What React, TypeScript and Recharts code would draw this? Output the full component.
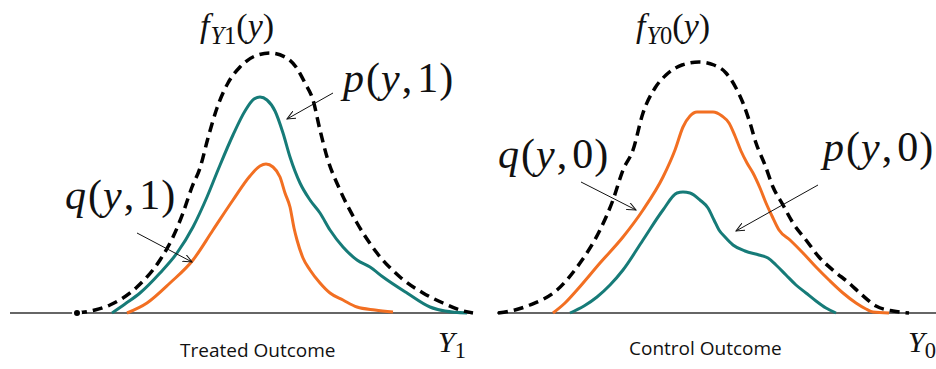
import React from 'react';
import { LineChart, Line, XAxis, YAxis, ReferenceLine } from 'recharts';

// outcome positions and density heights
const treatedX = [7.7, 9.5, 11.0, 13.7, 16.0, 17.3, 18.3, 19.2, 20.0, 20.8, 21.7, 22.8, 24.0, 25.5, 27.0, 28.5, 29.6, 30.5, 31.3, 32.0, 32.7, 34.0, 35.7, 37.7, 40.0, 42.3, 44.3, 46.0, 47.3];
const treatedF = [0, 0.03, 0.08, 0.26, 0.53, 0.76, 1.0, 1.26, 1.45, 1.75, 2.05, 2.3, 2.46, 2.57, 2.6, 2.56, 2.46, 2.3, 2.13, 1.83, 1.56, 1.23, 0.9, 0.6, 0.36, 0.2, 0.1, 0.03, 0];

const treatedPX = [11.2, 12.5, 14.0, 16.0, 17.7, 19.3, 20.7, 21.8, 23.3, 24.5, 25.4, 26.0, 26.7, 27.5, 28.3, 29.0, 30.0, 31.0, 32.0, 33.0, 34.3, 35.7, 37.0, 38.3, 40.7, 43.0, 44.5, 46.7];
const treatedP = [0, 0.09, 0.2, 0.4, 0.6, 0.86, 1.16, 1.43, 1.78, 2.02, 2.14, 2.16, 2.13, 2.02, 1.8, 1.56, 1.3, 1.13, 1.0, 0.83, 0.66, 0.53, 0.46, 0.36, 0.2, 0.06, 0.02, 0];

const treatedQX = [12.7, 14.7, 17.0, 19.3, 21.3, 23.3, 25.0, 26.0, 26.6, 27.3, 28.0, 28.5, 29.0, 29.4, 29.7, 30.3, 31.0, 32.0, 33.0, 34.3, 35.7, 37.5, 39.3];
const treatedQ = [0, 0.1, 0.3, 0.53, 0.83, 1.13, 1.37, 1.47, 1.49, 1.46, 1.36, 1.2, 1.06, 0.85, 0.73, 0.55, 0.43, 0.3, 0.2, 0.13, 0.06, 0.03, 0.01];

const controlX = [49.8, 51.5, 53.0, 55.7, 58.0, 60.0, 61.3, 62.3, 63.3, 64.3, 65.5, 66.6, 68.2, 69.9, 71.4, 72.6, 73.6, 74.3, 75.0, 75.6, 76.5, 77.3, 78.3, 79.3, 80.6, 81.9, 83.4, 84.9, 86.2, 87.6, 89.3, 90.9];
const controlF = [0, 0.03, 0.08, 0.23, 0.5, 0.83, 1.13, 1.43, 1.63, 2.0, 2.25, 2.38, 2.48, 2.51, 2.48, 2.4, 2.25, 2.1, 1.9, 1.7, 1.48, 1.26, 1.08, 0.9, 0.73, 0.56, 0.42, 0.3, 0.18, 0.07, 0.02, 0];

const controlQX = [55.3, 56.5, 57.7, 60.0, 62.3, 64.3, 66.3, 67.5, 68.3, 69.0, 69.7, 71.3, 72.2, 72.9, 73.5, 74.1, 74.7, 75.3, 76.0, 76.6, 77.2, 77.9, 79.0, 80.3, 81.6, 82.9, 84.3, 85.6, 86.6, 87.3, 88.9];
const controlQ = [0, 0.1, 0.23, 0.5, 0.76, 1.03, 1.36, 1.63, 1.86, 1.97, 2.01, 2.01, 1.97, 1.9, 1.77, 1.62, 1.5, 1.4, 1.25, 1.1, 0.97, 0.83, 0.73, 0.6, 0.46, 0.33, 0.2, 0.1, 0.04, 0.01, 0];

const controlPX = [57.0, 58.4, 59.7, 61.0, 62.3, 64.3, 66.3, 67.7, 68.3, 69.0, 70.0, 70.8, 71.4, 71.9, 72.5, 73.3, 74.5, 75.9, 76.8, 77.6, 78.6, 79.6, 80.6, 81.6, 82.6, 83.6];
const controlP = [0, 0.07, 0.16, 0.28, 0.43, 0.73, 1.03, 1.2, 1.21, 1.2, 1.13, 1.05, 0.93, 0.83, 0.76, 0.68, 0.62, 0.58, 0.55, 0.48, 0.38, 0.28, 0.2, 0.12, 0.05, 0];

const baselines = [[1.0, 47.3], [49.7, 93.6]];
const arrows = [
  [33.3, 2.2, 28.7, 1.94],
  [13.7, 0.8, 19.2, 0.51],
  [58.1, 1.31, 63.6, 1.03],
  [81.8, 1.28, 73.6, 0.82],
];

const zip = (xs: number[], ys: number[]) => xs.map((x, i) => ({ x, y: ys[i] }));

const TEAL = '#167b78';
const ORANGE = '#f26f22';

const serif = '"Liberation Serif", "Times New Roman", "DejaVu Serif", serif';

const Lbl = ({ left, top, size, children }: any) => (
  <div style={{ position: 'absolute', left, top, fontFamily: serif, fontSize: size, lineHeight: 1, whiteSpace: 'nowrap', color: '#111' }}>
    {children}
  </div>
);

const Fn = ({ name, a }: { name: string; a: string }) => (
  <>
    <i style={{ marginRight: 2 }}>{name}</i>(<i style={{ marginLeft: 1, marginRight: 2 }}>y</i>,<span style={{ marginLeft: 5, marginRight: 1 }}>{a}</span>)
  </>
);

const Dens = ({ k }: { k: string }) => (
  <>
    <i style={{ marginRight: 1 }}>f</i>
    <span style={{ fontSize: '0.72em', position: 'relative', top: '0.3em' }}>
      <i>Y</i>
      <span>{k}</span>
    </span>
    (<i>y</i>)
  </>
);

const Axis = ({ k }: { k: string }) => (
  <>
    <i>Y</i>
    <span style={{ fontSize: '0.75em', position: 'relative', top: '0.25em' }}>{k}</span>
  </>
);

const sans = { position: 'absolute' as const, fontFamily: '"Open Sans", sans-serif', fontSize: 19, lineHeight: 1, color: '#111', whiteSpace: 'nowrap' as const };

export default function App() {
  return (
    <div style={{ position: 'absolute', left: 0, top: 0, width: 936, height: 369, background: '#fff' }}>
      <LineChart width={936} height={369} margin={{ top: 0, right: 0, bottom: 0, left: 0 }}>
        <defs>
          <marker id="arr" markerWidth="10" markerHeight="8" refX="9" refY="4" orient="auto" markerUnits="userSpaceOnUse">
            <path d="M0,0 L9,4 L0,8" fill="none" stroke="#111" strokeWidth={1} />
          </marker>
        </defs>
        <XAxis type="number" dataKey="x" domain={[0, 93.6]} hide allowDataOverflow />
        <YAxis type="number" domain={[-0.56, 3.13]} hide allowDataOverflow />
        {baselines.map(([a, b], i) => (
          <ReferenceLine key={'b' + i} segment={[{ x: a, y: 0 }, { x: b, y: 0 }]} stroke="#666" strokeWidth={2} />
        ))}
        <Line data={zip(treatedPX, treatedP)} dataKey="y" type="monotone" stroke={TEAL} strokeWidth={3} dot={false} isAnimationActive={false} />
        <Line data={zip(treatedQX, treatedQ)} dataKey="y" type="monotone" stroke={ORANGE} strokeWidth={3} dot={false} isAnimationActive={false} />
        <Line data={zip(treatedX, treatedF)} dataKey="y" type="monotone" stroke="#000" strokeWidth={3.5} strokeDasharray="10 6" dot={false} isAnimationActive={false} />
        <Line data={zip(controlPX, controlP)} dataKey="y" type="monotone" stroke={TEAL} strokeWidth={3} dot={false} isAnimationActive={false} />
        <Line data={zip(controlQX, controlQ)} dataKey="y" type="monotone" stroke={ORANGE} strokeWidth={3} dot={false} isAnimationActive={false} />
        <Line data={zip(controlX, controlF)} dataKey="y" type="monotone" stroke="#000" strokeWidth={3.5} strokeDasharray="10 6" dot={false} isAnimationActive={false} />
        {arrows.map(([x1, y1, x2, y2], i) => (
          <ReferenceLine key={'a' + i} segment={[{ x: x1, y: y1 }, { x: x2, y: y2 }]} stroke="#111" strokeWidth={1} markerEnd="url(#arr)" />
        ))}
      </LineChart>
      <Lbl left={200} top={9} size={34}><Dens k="1" /></Lbl>
      <Lbl left={636} top={9} size={34}><Dens k="0" /></Lbl>
      <Lbl left={343} top={57} size={42}><Fn name="p" a="1" /></Lbl>
      <Lbl left={65} top={174} size={42}><Fn name="q" a="1" /></Lbl>
      <Lbl left={498} top={133} size={42}><Fn name="q" a="0" /></Lbl>
      <Lbl left={823} top={126} size={42}><Fn name="p" a="0" /></Lbl>
      <Lbl left={438} top={327} size={30}><Axis k="1" /></Lbl>
      <Lbl left={908} top={327} size={30}><Axis k="0" /></Lbl>
      <div style={{ ...sans, left: 180, top: 341 }}>Treated Outcome</div>
      <div style={{ ...sans, left: 629, top: 339 }}>Control Outcome</div>
    </div>
  );
}
